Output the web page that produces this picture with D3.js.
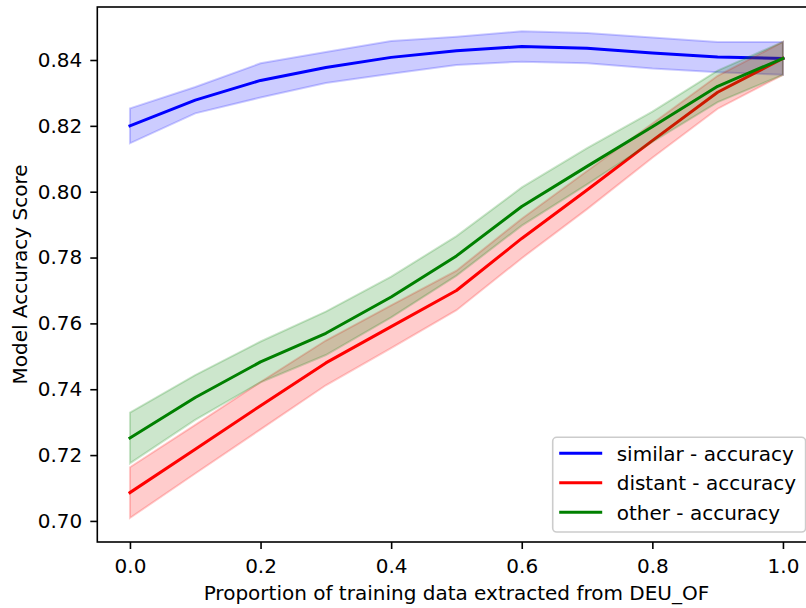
<!DOCTYPE html>
<html><head><meta charset="utf-8">
<script src="https://cdn.jsdelivr.net/npm/d3@7"></script>
<style>
body{margin:0;background:#fff;}
text{font-family:"DejaVu Sans",sans-serif;}
</style>
</head><body>
<svg id="chart" width="806" height="608"></svg>
<script>
// ---- data ----
const proportions = [0.0, 0.1, 0.2, 0.3, 0.4, 0.5, 0.6, 0.7, 0.8, 0.9, 1.0];
const similarAcc  = [0.8200, 0.8278, 0.8338, 0.8377, 0.8408, 0.8428, 0.8441, 0.8436, 0.8421, 0.8409, 0.8405];
const similarErr  = [0.0053, 0.0040, 0.0052, 0.0047, 0.0050, 0.0043, 0.0046, 0.0046, 0.0047, 0.0046, 0.0050];
const distantAcc  = [0.7086, 0.7218, 0.7350, 0.7480, 0.7590, 0.7700, 0.7858, 0.8005, 0.8155, 0.8302, 0.8405];
const distantErr  = [0.0077, 0.0074, 0.0072, 0.0068, 0.0065, 0.0060, 0.0060, 0.0058, 0.0052, 0.0050, 0.0050];
const otherAcc    = [0.7252, 0.7375, 0.7483, 0.7570, 0.7680, 0.7805, 0.7955, 0.8077, 0.8197, 0.8320, 0.8405];
const otherErr    = [0.0077, 0.0068, 0.0062, 0.0066, 0.0062, 0.0060, 0.0058, 0.0055, 0.0046, 0.0048, 0.0050];
const seriesNames  = ["similar - accuracy", "distant - accuracy", "other - accuracy"];
const seriesColors = ["#0000ff", "#ff0000", "#008000"];
const xTicks = [0.0, 0.2, 0.4, 0.6, 0.8, 1.0];
const yTicks = [0.70, 0.72, 0.74, 0.76, 0.78, 0.80, 0.82, 0.84];
const xLabel = "Proportion of training data extracted from DEU_OF";
const yLabel = "Model Accuracy Score";

const series = [
  {name: seriesNames[0], color: seriesColors[0], mean: similarAcc, err: similarErr},
  {name: seriesNames[1], color: seriesColors[1], mean: distantAcc, err: distantErr},
  {name: seriesNames[2], color: seriesColors[2], mean: otherAcc,   err: otherErr}
];

// ---- layout ----
const svg = d3.select("#chart");
const plot = {left: 97.3, right: 815.6, top: 7, bottom: 542};
const x = d3.scaleLinear().domain([-0.05, 1.05]).range([plot.left, plot.right]);
const y = d3.scaleLinear().domain([0.6936, 0.8561]).range([plot.bottom, plot.top]);

svg.append("rect").attr("width", 806).attr("height", 608).attr("fill", "#fff");

const area = d3.area()
  .x((d) => x(d.x)).y0((d) => y(d.lo)).y1((d) => y(d.hi));
const line = d3.line().x((d) => x(d.x)).y((d) => y(d.y));

const gData = svg.append("g");
series.forEach((s) => {
  const pts = proportions.map((p, i) => ({x: p, y: s.mean[i], lo: s.mean[i] - s.err[i], hi: s.mean[i] + s.err[i]}));
  gData.append("path").datum(pts).attr("d", line)
    .attr("fill", "none").attr("stroke", s.color).attr("stroke-width", 3)
    .attr("stroke-linejoin", "round").attr("stroke-linecap", "square");
  gData.append("path").datum(pts).attr("d", area)
    .attr("fill", s.color).attr("fill-opacity", 0.2)
    .attr("stroke", s.color).attr("stroke-opacity", 0.2).attr("stroke-width", 2);
});

// ---- axes ----
const xAxis = d3.axisBottom(x).tickValues(xTicks).tickFormat(d3.format(".1f"))
  .tickSize(7).tickSizeOuter(0).tickPadding(10);
const gx = svg.append("g").attr("transform", `translate(0,${plot.bottom})`).call(xAxis);
const yAxis = d3.axisLeft(y).tickValues(yTicks).tickFormat(d3.format(".2f"))
  .tickSize(7).tickSizeOuter(0).tickPadding(8);
const gy = svg.append("g").attr("transform", `translate(${plot.left},0)`).call(yAxis);
[gx, gy].forEach((g) => {
  g.select(".domain").remove();
  g.selectAll(".tick line").attr("stroke", "#000").attr("stroke-width", 1.6);
  g.selectAll(".tick text").attr("fill", "#000").style("font-size", "20px")
    .style("font-family", "'DejaVu Sans', sans-serif");
});

svg.append("rect")
  .attr("x", plot.left).attr("y", plot.top)
  .attr("width", plot.right - plot.left).attr("height", plot.bottom - plot.top)
  .attr("fill", "none").attr("stroke", "#000").attr("stroke-width", 1.6);

svg.append("text").attr("x", (plot.left + plot.right) / 2).attr("y", 600)
  .attr("text-anchor", "middle").style("font-size", "20px").text(xLabel);
svg.append("text").attr("transform", `translate(26.7,${(plot.top + plot.bottom) / 2}) rotate(-90)`)
  .attr("text-anchor", "middle").style("font-size", "20px").text(yLabel);

// ---- legend ----
const leg = svg.append("g");
leg.append("rect").attr("x", 552.7).attr("y", 437.3).attr("width", 252.9).attr("height", 94.7)
  .attr("rx", 4).attr("fill", "#fff").attr("fill-opacity", 0.8)
  .attr("stroke", "#cccccc").attr("stroke-width", 1.6);
series.forEach((s, i) => {
  const cy = 453.3 + i * 29.5;
  leg.append("line").attr("x1", 560.7).attr("x2", 600.7).attr("y1", cy).attr("y2", cy)
    .attr("stroke", s.color).attr("stroke-width", 3).attr("stroke-linecap", "square");
  leg.append("text").attr("x", 616.7).attr("y", cy + 7.3)
    .style("font-size", "20px").text(s.name);
});
</script>
</body></html>
